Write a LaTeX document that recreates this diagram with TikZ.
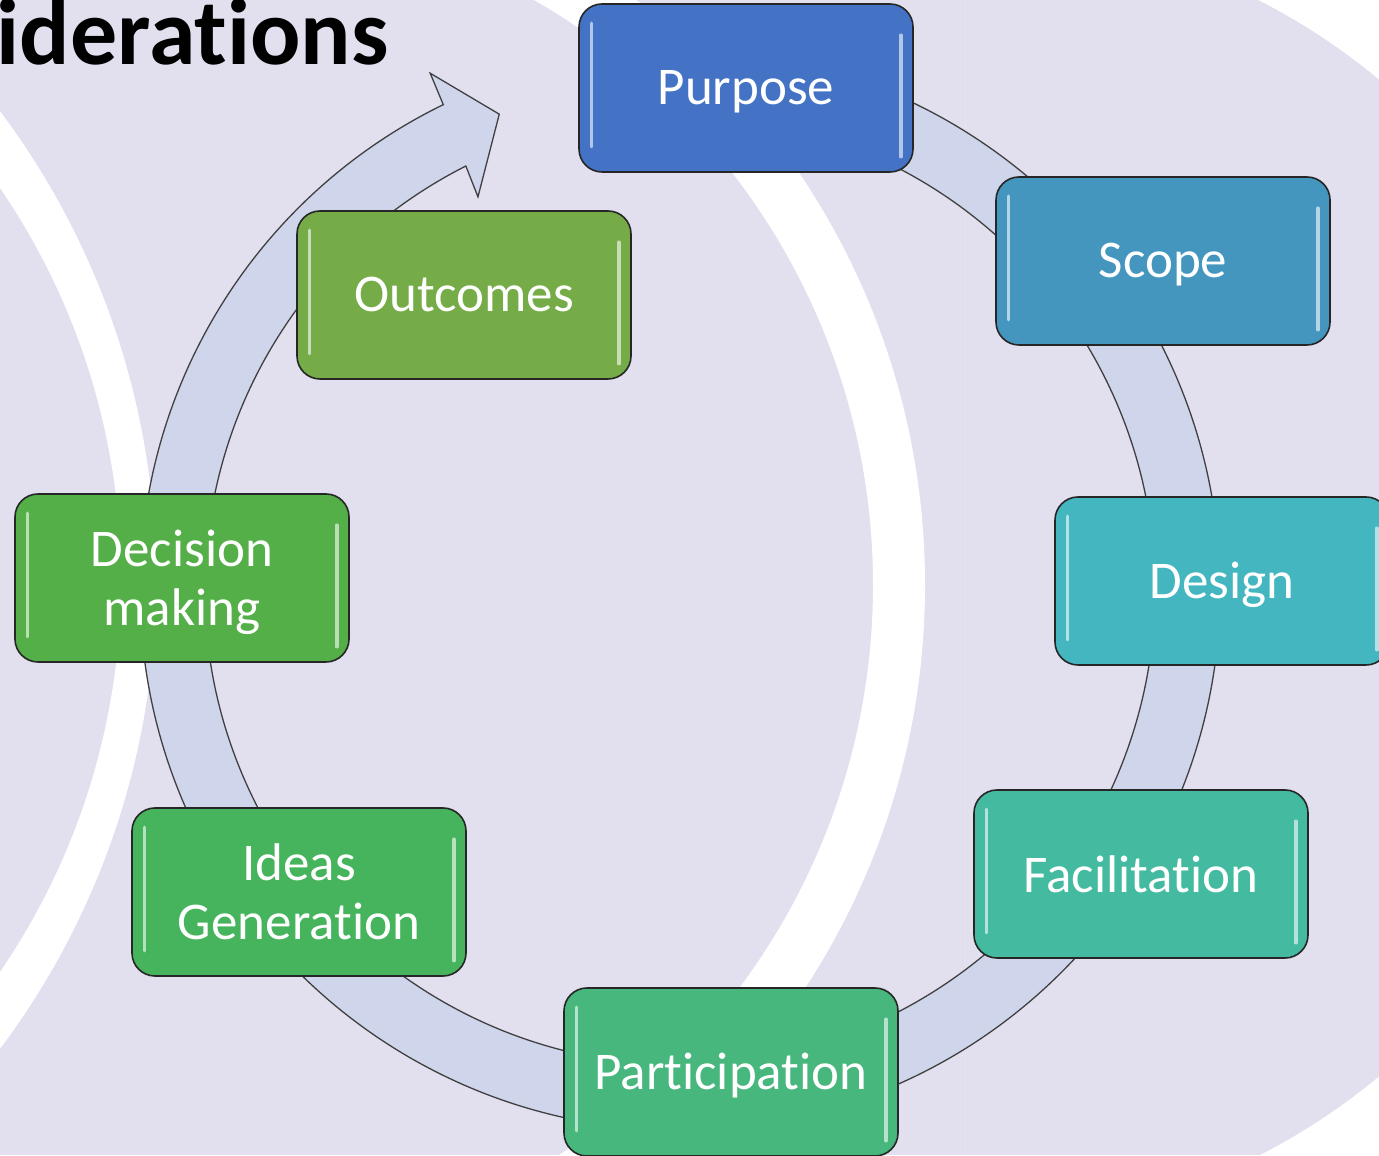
\documentclass[tikz,border=0pt]{standalone}
\usepackage{fontspec}
\setmainfont[Ligatures={NoCommon}]{Carlito}
\usetikzlibrary{calc}
\definecolor{lav}{HTML}{E2DFEE}
\definecolor{ringfill}{HTML}{CFD5EA}
\definecolor{cPur}{HTML}{4472C4}
\definecolor{cSco}{HTML}{4496BF}
\definecolor{cDes}{HTML}{44B6C0}
\definecolor{cFac}{HTML}{44BBA0}
\definecolor{cPar}{HTML}{47B77E}
\definecolor{cIde}{HTML}{46B45C}
\definecolor{cDec}{HTML}{55AF48}
\definecolor{cOut}{HTML}{75AC48}
\begin{document}
\begin{tikzpicture}[x=0.5pt,y=0.5pt,
  box/.style={draw=black!85, line width=0.8pt, rounded corners=11.5pt,
    minimum width=167pt, minimum height=84pt, inner sep=0pt, text=white,
    align=center, font=\fontsize{26.5}{29.5}\selectfont},
  dsc/.style={text depth=0.04em},
  hl/.style={white, opacity=0.6, line width=1.7pt, line cap=round},
  ringst/.style={fill=ringfill, draw=black!75, line width=0.65pt, line join=miter}]
\useasboundingbox (0,0) rectangle (1379,1155);
\clip (0,0) rectangle (1379,1155);
% background
\fill[lav] (0,0) rectangle (1379,1155);
\begin{scope}
  \clip (965,-10) rectangle (1400,1170);
  \fill[white, even odd rule] (965,-10) rectangle (1400,1170) (965,577) circle[radius=648];
\end{scope}
\fill[white, even odd rule] (188,570) circle[radius=737] (199,570) circle[radius=674];
\fill[white, even odd rule] (-626,575) circle[radius=782] (-574,575) circle[radius=695];
% circular arrow
\begin{scope}[shift={(680,565)}]
  \path[ringst] (97:540) arc[start angle=97, end angle=-244, radius=540]
    -- (115.8:574) -- (110.8:509) -- (117.2:442) -- (-243.2:475)
    arc[start angle=-243.2, end angle=97, radius=475] -- cycle;
\end{scope}
% boxes
\node[box, dsc, fill=cPur] (pur) at (746,1067) {Purpose};
\node[box, dsc, fill=cSco] (sco) at (1163,894) {Scope};
\node[box, dsc, fill=cDes] (des) at (1222,574) {Design};
\node[box, fill=cFac] (fac) at (1141,281) {Facilitation};
\node[box, dsc, fill=cPar] (par) at (731,83) {Participation};
\node[box, fill=cIde] (ide) at (299,263) {Ideas\\Generation};
\node[box, dsc, fill=cDec] (dec) at (182,577) {Decision\\making};
\node[box, fill=cOut] (out) at (464,860) {Outcomes};
\foreach \n in {pur,sco,des,fac,par,ide,dec,out}{
  \draw[hl] ([shift={(13,26)}]\n.south west) -- ([shift={(13,-20)}]\n.north west);
  \draw[hl] ([shift={(-13,16)}]\n.south east) -- ([shift={(-13,-32)}]\n.north east);
}
% title
\node[anchor=base east, inner sep=0pt, font=\bfseries\fontsize{47}{50}\selectfont] (title) at (389,1090) {iderations};
\end{tikzpicture}
\end{document}
